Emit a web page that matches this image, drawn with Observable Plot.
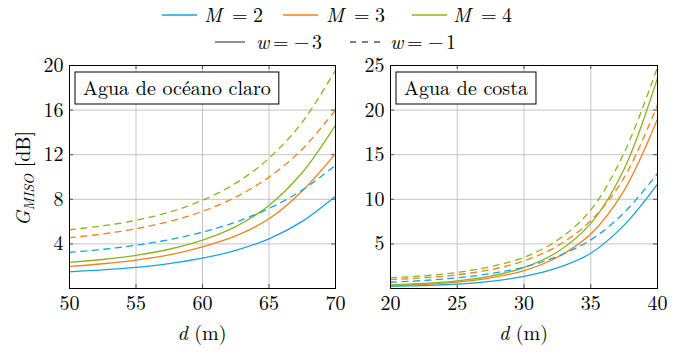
<!DOCTYPE html>
<html><head><meta charset="utf-8">
<script src="https://cdn.jsdelivr.net/npm/d3@7"></script>
<script src="https://cdn.jsdelivr.net/npm/@observablehq/plot@0.6"></script>
<style>
body{margin:0;background:#fff;}
#wrap{position:relative;width:695px;height:354px;background:#fff;overflow:hidden;font-family:'Latin Modern Roman','Liberation Serif',serif;}
#wrap svg, #wrap svg text, #wrap svg tspan{font-family:'Latin Modern Roman','Liberation Serif',serif !important;}
#left{position:absolute;left:0;top:40px;}
#right{position:absolute;left:345px;top:40px;}
#legend{position:absolute;left:0;top:0;z-index:2;}
</style></head><body>
<div id="wrap"><div id="left"></div><div id="right"></div><svg id="legend" width="695" height="56"></svg></div>
<script>
// ---- data ----
const xTicksLeft = [50, 55, 60, 65, 70];
const yTicksLeft = [4, 8, 12, 16, 20];
const xTicksRight = [20, 25, 30, 35, 40];
const yTicksRight = [5, 10, 15, 20, 25];

const dLeft = [50, 52.5, 55, 57.5, 60, 62.5, 65, 67.5, 70];
const left_M2_w3 = [1.50, 1.67, 1.90, 2.24, 2.72, 3.42, 4.45, 6.02, 8.27];
const left_M3_w3 = [1.98, 2.22, 2.55, 3.02, 3.74, 4.72, 6.25, 8.75, 12.10];
const left_M4_w3 = [2.34, 2.60, 2.97, 3.52, 4.34, 5.55, 7.45, 10.40, 14.66];
const left_M2_w1 = [3.24, 3.51, 3.88, 4.38, 5.05, 5.96, 7.18, 8.83, 11.06];
const left_M3_w1 = [4.56, 4.89, 5.36, 6.01, 6.92, 8.20, 9.99, 12.49, 16.00];
const left_M4_w1 = [5.27, 5.62, 6.12, 6.85, 7.91, 9.45, 11.68, 14.92, 19.60];

const dRight = [20, 22.5, 25, 27.5, 30, 32.5, 35, 37.5, 40];
const right_M2_w3 = [0.25, 0.33, 0.48, 0.80, 1.35, 2.30, 3.95, 7.10, 11.70];
const right_M3_w3 = [0.33, 0.47, 0.72, 1.20, 2.00, 3.50, 6.10, 11.00, 19.00];
const right_M4_w3 = [0.40, 0.56, 0.85, 1.38, 2.35, 4.10, 7.30, 13.40, 23.60];
const right_M2_w1 = [0.70, 0.90, 1.20, 1.68, 2.40, 3.60, 5.45, 8.50, 12.90];
const right_M3_w1 = [1.00, 1.20, 1.54, 2.12, 3.10, 4.77, 7.61, 12.43, 20.60];
const right_M4_w1 = [1.20, 1.42, 1.80, 2.45, 3.50, 5.40, 8.80, 15.20, 24.80];

const Mvalues = [2, 3, 4];
const wValues = [-3, -1];
const titles = ["Agua de océano claro", "Agua de costa"];

// ---- styles ----
const colorOfM = {2: "#1aa3de", 3: "#f77f1e", 4: "#8ab51c"};
const DASH = "6,5.5";
const FONT = "'Latin Modern Roman', 'Liberation Serif', serif";

function rowsFrom(d, arrs) {
  const rows = [];
  arrs.forEach(([M, w, vals]) => vals.forEach((g, i) => rows.push({d: d[i], g, M, w, key: M + "_" + w})));
  return rows;
}
const leftRows = rowsFrom(dLeft, [[2,-3,left_M2_w3],[3,-3,left_M3_w3],[4,-3,left_M4_w3],[2,-1,left_M2_w1],[3,-1,left_M3_w1],[4,-1,left_M4_w1]]);
const rightRows = rowsFrom(dRight, [[2,-3,right_M2_w3],[3,-3,right_M3_w3],[4,-3,right_M4_w3],[2,-1,right_M2_w1],[3,-1,right_M3_w1],[4,-1,right_M4_w1]]);

function panel(el, rows, xTicks, yTicks, width, ml, mr, title, withYLabel) {
  const height = 314, mt = 25, mb = 66;
  const fw = width - ml - mr, fh = height - mt - mb;
  const solid = rows.filter(r => r.w === -3), dashed = rows.filter(r => r.w === -1);
  const svg = Plot.plot({
    width, height, marginLeft: ml, marginRight: mr, marginTop: mt, marginBottom: mb,
    style: {fontFamily: FONT, fontSize: "20px", color: "black", background: "transparent"},
    x: {domain: [xTicks[0], xTicks[xTicks.length - 1]], ticks: xTicks, tickSize: 0, tickPadding: 7, label: null, tickFormat: d => String(d)},
    y: {domain: [0, yTicks[yTicks.length - 1]], ticks: yTicks, tickSize: 0, tickPadding: 6, label: null, tickFormat: d => String(d)},
    marks: [
      Plot.ruleX(xTicks, {stroke: "#c4c4c4", strokeWidth: 1}),
      Plot.ruleY(yTicks, {stroke: "#c4c4c4", strokeWidth: 1}),
      Plot.ruleX(xTicks, {stroke: "#555", insetTop: fh - 4}),
      Plot.ruleX(xTicks, {stroke: "#555", insetBottom: fh - 4}),
      Plot.ruleY(yTicks, {stroke: "#555", insetRight: fw - 4}),
      Plot.ruleY(yTicks, {stroke: "#555", insetLeft: fw - 4}),
      Plot.line(solid, {x: "d", y: "g", z: "key", stroke: r => colorOfM[r.M], strokeWidth: 1.3, curve: "catmull-rom"}),
      Plot.line(dashed, {x: "d", y: "g", z: "key", stroke: r => colorOfM[r.M], strokeWidth: 1.3, strokeDasharray: DASH, curve: "catmull-rom"}),
      Plot.frame({stroke: "black", strokeWidth: 1})
    ]
  });
  el.appendChild(svg);
  const s = d3.select(svg);
  // title box
  const g = s.append("g").attr("text-anchor", "start");
  const t = g.append("text").attr("x", ml + 14).attr("y", mt + 30).attr("text-anchor", "start")
    .attr("font-size", 20).attr("fill", "black").text(title);
  const tw = t.node().getComputedTextLength();
  g.insert("rect", "text").attr("x", ml + 6).attr("y", mt + 7).attr("width", tw + 16).attr("height", 32)
    .attr("fill", "white").attr("stroke", "black").attr("stroke-width", 1);
  // x label
  const xl = s.append("text").attr("x", ml + fw / 2).attr("y", height - 14).attr("text-anchor", "middle")
    .attr("font-size", 20).attr("fill", "black");
  xl.append("tspan").attr("font-style", "italic").text("d");
  xl.append("tspan").text(" (m)");
  if (withYLabel) {
    const yl = s.append("text").attr("transform", `translate(30,${mt + fh / 2 + 2}) rotate(-90)`).attr("text-anchor", "middle")
      .attr("font-size", 20).attr("fill", "black");
    yl.append("tspan").attr("font-style", "italic").text("G");
    yl.append("tspan").attr("font-style", "italic").attr("font-size", 14).attr("dy", 4).text("MISO");
    yl.append("tspan").attr("dy", -4).text(" [dB]");
  }
}

panel(document.getElementById("left"), leftRows, xTicksLeft, yTicksLeft, 345, 69, 10, titles[0], true);
panel(document.getElementById("right"), rightRows, xTicksRight, yTicksRight, 350, 45, 38, titles[1], false);

// ---- legend ----
const L = d3.select("#legend");
function eqText(x, y, sym, parts) {
  L.append("text").attr("x", x).attr("y", y).attr("font-size", 20).attr("font-style", "italic").attr("fill", "black").text(sym);
  parts.forEach(([dx, s]) => L.append("text").attr("x", x + dx).attr("y", y).attr("font-size", 20).attr("fill", "black").text(s));
}
const mItems = [[162, 204], [283, 326], [412, 453]];
Mvalues.forEach((M, i) => {
  const [lx, tx] = mItems[i];
  L.append("line").attr("x1", lx).attr("x2", lx + 35).attr("y1", 15).attr("y2", 15).attr("stroke", colorOfM[M]).attr("stroke-width", 1.3);
  eqText(tx, 22, "M", [[28, "="], [49, String(M)]]);
});
const wItems = [[215, 256, null], [350, 390, "6,6"]];
wValues.forEach((w, i) => {
  const [lx, tx, dash] = wItems[i];
  const ln = L.append("line").attr("x1", lx).attr("x2", lx + 30).attr("y1", 42).attr("y2", 42).attr("stroke", "#555").attr("stroke-width", 1.3);
  if (dash) ln.attr("stroke-dasharray", dash);
  eqText(tx, 49, "w", [[17, "="], [38, "\u2212"], [56, String(-w)]]);
});
</script>
</body></html>
